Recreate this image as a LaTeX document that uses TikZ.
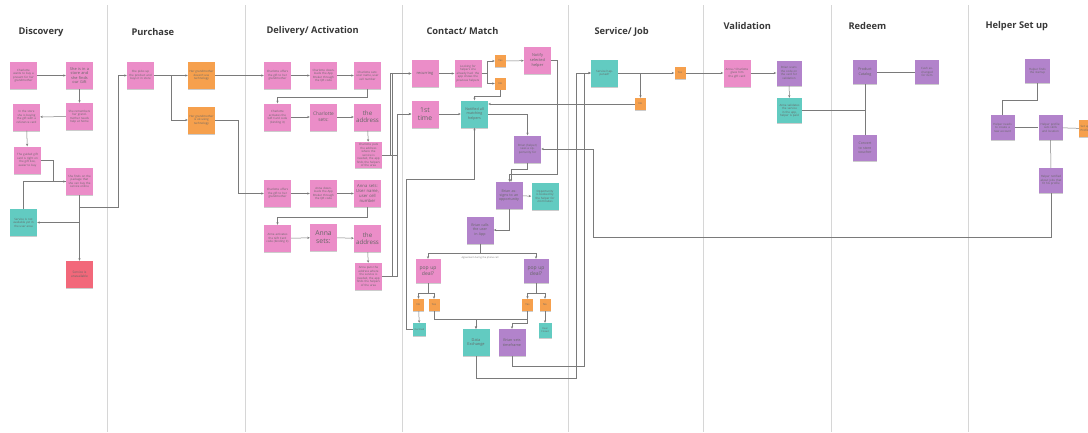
\documentclass[tikz,border=0pt]{standalone}
\usepackage{fontspec}
\setmainfont{Open Sans}
\usetikzlibrary{arrows.meta,shadows}

\definecolor{notepink}{HTML}{EB8DC8}
\definecolor{noteorange}{HTML}{F6A04D}
\definecolor{noteteal}{HTML}{62CBC1}
\definecolor{notepurple}{HTML}{B283CB}
\definecolor{notered}{HTML}{F2687A}
\definecolor{linegray}{HTML}{7A7A7A}

\tikzset{
    note/.style={minimum width=27pt, minimum height=27pt, text width=24pt, inner sep=1.5pt,
        align=center, font=\fontsize{2.9}{3.5}\selectfont, text=black!60,
        drop shadow={shadow xshift=0.4pt, shadow yshift=-1.2pt, opacity=0.2, fill=black}},
    pinknote/.style={note, fill=notepink},
    tealnote/.style={note, fill=noteteal},
    purplenote/.style={note, fill=notepurple},
    rednote/.style={note, fill=notered},
    orangenote/.style={note, fill=noteorange},
    tag/.style={fill=noteorange, minimum width=11pt, minimum height=12pt, inner sep=0pt,
        font=\fontsize{2.6}{3}\selectfont, text=black!60,
        drop shadow={shadow xshift=0.3pt, shadow yshift=-0.8pt, opacity=0.2, fill=black}},
    small/.style={minimum width=13pt, minimum height=13pt, text width=11pt, inner sep=1pt},
    link/.style={draw=linegray, line width=0.5pt, -{Stealth[length=2.6pt,width=2.2pt]}},
    plain/.style={draw=linegray, line width=0.5pt},
    lane/.style={draw=black!16, line width=0.7pt},
    lanetitle/.style={anchor=west, font=\fontsize{9.3}{11}\selectfont\bfseries, text=black!78}
}

\begin{document}
\begin{tikzpicture}[x=1pt,y=-1pt]
\useasboundingbox (0,0) rectangle (1088,432);

% Loop to draw the lane separators
\foreach \x in {107,245,402,568,703,831,968} {
    \draw[lane] (\x,5) -- (\x,432);
}

% Lane titles
\node[lanetitle] (tdisc) at (15,32) {Discovery};
\node[lanetitle] (tbuy) at (128,32) {Purchase};
\node[lanetitle] (tdel) at (263,31) {Delivery/ Activation};
\node[lanetitle] (tmatch) at (423,31) {Contact/ Match};
\node[lanetitle] (tjob) at (591,32) {Service/ Job};
\node[lanetitle] (tval) at (720,26) {Validation};
\node[lanetitle] (tred) at (845,26) {Redeem};
\node[lanetitle] (thelp) at (982,26) {Helper Set up};

% Discovery
\node[pinknote] (disc1) at (23.5,75.5) {Charlotte wants to buy a present for her grandmother};
\node[pinknote, font=\fontsize{3.9}{4.5}\selectfont] (disc2) at (79.5,75.5) {She is in a store and she finds our Gift};
\node[pinknote] (disc4) at (79.5,116.5) {She remembers her grandmother needs help at home};
\node[pinknote] (disc3) at (26.5,117) {In the store she is buying the gift with a reference card};
\node[pinknote] (disc5) at (27.5,160) {The guided gift card is right on the gift box, easier to buy};
\node[pinknote] (disc6) at (79.5,181.5) {She finds on the package that she can buy the service online};
\node[tealnote] (disc7) at (23.5,222.5) {Service is not available yet in the user area};
\node[rednote, font=\fontsize{3.2}{3.8}\selectfont] (disc8) at (79.5,274.5) {Service is unavailable};

% Purchase
\node[pinknote] (buy1) at (140.5,75.5) {She picks up the product and buys it in store};
\node[orangenote] (buy2) at (201.5,75.5) {Her grandmother doesn't use technology};
\node[orangenote] (buy3) at (201.5,120) {Her grandmother is ok using technology};

% Delivery/ Activation
\node[pinknote] (del1) at (277.5,75.5) {Charlotte offers the gift to her grandmother};
\node[pinknote] (del2) at (323.5,75.5) {Charlotte downloads the App Broker through the QR code};
\node[pinknote] (del3) at (367.5,75.5) {Charlotte sets: user name, user cell number};
\node[pinknote] (del4) at (277.5,117) {Charlotte activates the Gift Card code (binding it)};
\node[pinknote, font=\fontsize{4.8}{5.6}\selectfont] (del5) at (323.5,117) {Charlotte sets:};
\node[pinknote, font=\fontsize{6.2}{7.2}\selectfont] (del6) at (367.5,117) {the address};
\node[pinknote, minimum height=26pt] (del6b) at (368.5,155) {Charlotte puts the address where the service is needed, the app finds the helpers of the area};
\node[pinknote] (del7) at (277.5,193.5) {Charlotte offers the gift to her grandmother};
\node[pinknote] (del8) at (323.5,193.5) {Anna downloads the App Broker through the QR code};
\node[pinknote, font=\fontsize{4.2}{5}\selectfont] (del9) at (367.5,193.5) {Anna sets: User name, user cell number};
\node[pinknote] (del10) at (277.5,238.5) {Anna activates the Gift Card code (binding it)};
\node[pinknote, font=\fontsize{6.8}{7.8}\selectfont] (del11) at (323.5,237.5) {Anna sets:};
\node[pinknote, font=\fontsize{6.2}{7.2}\selectfont] (del12) at (367.5,238.5) {the address};
\node[pinknote] (del12b) at (368.5,276.5) {Anna puts the address where the service is needed, the app finds the helpers of the area};

% Contact/ Match
\node[pinknote, font=\fontsize{3.9}{4.5}\selectfont] (match1) at (425,73.5) {recurring};
\node[pinknote] (match2) at (468,73.5) {Looking for helpers she already had: the app shows the previous helpers};
\node[tag] (yes1) at (500.5,61) {Yes};
\node[tag] (no1) at (500.5,83.5) {No};
\node[pinknote, font=\fontsize{3.9}{4.7}\selectfont] (match4) at (537.5,60.5) {Notify selected helper};
\node[pinknote, font=\fontsize{6.8}{8}\selectfont] (match3) at (425,114) {1st time};
\node[tealnote, font=\fontsize{3.6}{4.3}\selectfont] (match5) at (474.5,114) {Notified all matching helpers};
\node[purplenote] (match6) at (527.5,149) {Brian (helper) sees a opportunity for};
\node[purplenote, font=\fontsize{3.6}{4.3}\selectfont] (match7) at (509,195.5) {Brian assigns to an opportunity};
\node[tealnote] (match8) at (545,196.5) {Opportunity is booked by the helper for 24 minutes};
\node[purplenote, font=\fontsize{3.6}{4.3}\selectfont] (match9) at (480,230) {Brian calls the user in App};
\node[text=black!55, font=\fontsize{2.4}{3}\selectfont, inner sep=0pt] (agree) at (480,257.5) {Agreement during the phone call};
\node[pinknote, minimum width=24pt, minimum height=24pt, text width=22pt, font=\fontsize{5}{6}\selectfont] (match10) at (428,271) {pop up deal?};
\node[purplenote, minimum width=24pt, minimum height=24pt, text width=22pt, font=\fontsize{5}{6}\selectfont] (match11) at (536,271) {pop up deal?};
\node[tag] (no2) at (418.5,305) {No};
\node[tag] (yes2) at (434,305) {Yes};
\node[tag] (yes3) at (527.5,305) {Yes};
\node[tag] (no3) at (545,305) {No};
\node[tealnote, small, font=\fontsize{2.4}{3}\selectfont] (match12) at (419.5,329.5) {Declined};
\node[tealnote, small, minimum height=15pt, font=\fontsize{2.4}{3}\selectfont] (match13) at (545,330.5) {Deal Closed};
\node[tealnote, font=\fontsize{3.9}{4.7}\selectfont] (match14) at (476,342.5) {Data Exchange};
\node[purplenote, font=\fontsize{3.7}{4.5}\selectfont] (match15) at (512,342.5) {Brian sets timeframe};

% Service/ Job
\node[tealnote] (job1) at (604.5,73) {Service happened?};
\node[tag] (jobyes) at (680,73) {Yes};
\node[tag] (jobno) at (640.5,104) {No};

% Validation
\node[pinknote] (val1) at (737,73) {Anna / Charlotte gives him the gift card};
\node[purplenote, minimum width=25pt, minimum height=25pt, text width=22pt] (val2) at (789,73) {Brian scans the code on the card for validation};
\node[tealnote, minimum width=25pt, minimum height=25pt, text width=22pt] (val3) at (789.5,110.5) {Anna validates the service in the app, helper is paid};

% Redeem
\node[purplenote, minimum width=24pt, minimum height=24pt, text width=21pt, font=\fontsize{3.7}{4.5}\selectfont] (red1) at (865,72) {Product Catalog};
\node[purplenote, minimum width=24pt, minimum height=24pt, text width=21pt] (red2) at (927,72) {Cash exchanged for item};
\node[purplenote, minimum width=24pt, minimum height=26pt, text width=21pt, font=\fontsize{3.5}{4.3}\selectfont] (red3) at (865,148) {Convert to store voucher};

% Helper Set up
\node[purplenote, minimum width=25pt, minimum height=24pt, text width=22pt] (help1) at (1037.5,71) {Helper finds the startup};
\node[purplenote, minimum width=24pt, minimum height=25pt, text width=21pt] (help2) at (1002.5,127.5) {Helper needs to create a new account};
\node[purplenote, minimum width=24pt, minimum height=25pt, text width=21pt] (help3) at (1050.5,127.5) {Helper profile: sets skills and location};
\node[orangenote, minimum width=12pt, minimum height=17pt, text width=10pt, inner sep=1pt] (help5) at (1085,128.5) {Set up Profile};
\node[purplenote, minimum width=24pt, minimum height=25pt, text width=21pt] (help4) at (1051,180.5) {Helper notified about jobs that fit his profile};

% Connectors: Discovery
\draw[link] (disc1) -- (disc2);
\draw[link] (disc2) -- (disc4);
\draw[link] (disc4) -- (disc3);
\draw[link] (disc3) -- (disc5);
\draw[link] (disc5.east) -- ++(12,0) |- (disc6.west);
\draw[plain] (disc7.north) |- (disc6.west);
\draw[link] (disc6.south) |- (disc7.east);
\draw[link] (disc6.south) -- (disc8.north);
\draw[link] (disc6.south) -- ++(0,12) -- ++(38.5,0) |- (buy1.west);

% Connectors: Purchase
\draw[link] (buy1) -- (buy2);
\draw[link] (buy1.east) -- ++(17,0) |- (buy3.west);
\draw[link] (buy2) -- (del1);
\draw[link] (buy3.east) -- ++(23,0) |- (del7.west);

% Connectors: Delivery/ Activation
\draw[link] (del1) -- (del2);
\draw[link] (del2) -- (del3);
\draw[link] (del3.south) -- ++(0,8) -| (del4.north);
\draw[link] (del4) -- (del5);
\draw[link] (del5) -- (del6);
\draw[link] (del6) -- (del6b);
\draw[link] (del7) -- (del8);
\draw[link] (del8) -- (del9);
\draw[link] (del9.south) -- ++(0,10) -| (del10.north);
\draw[link] (del10) -- (del11);
\draw[link] (del11) -- (del12);
\draw[link] (del12) -- (del12b);
\draw[link] (del6b.east) -- ++(8,0) |- (match1.west);
\draw[link] (del6b.east) -- ++(15,0) |- (match3.west);
\draw[link] (del12b.east) -- ++(10,0) |- (match1.west);
\draw[link] (del12b.east) -- ++(15,0) |- (match3.west);

% Connectors: Contact/ Match
\draw[link] (match1) -- (match2);
\draw[link] (match2.east) -- ++(6,0) |- (yes1.west);
\draw[link] (match2.east) -- ++(6,0) |- (no1.west);
\draw[link] (yes1) -- (match4);
\draw[link] (no1.south) -- ++(0,7) -| (match5.north);
\draw[link] (match3) -- (match5);
\draw[link] (match5.east) -| (match6.north);
\draw[link] (match6.south) -- ++(0,7) -| ([xshift=2pt]match7.north);
\draw[link] (match4.east) -- ++(6,0) -- ++(0,114) -| ([xshift=0.5pt]match7.north);
\draw[link] (match7) -- (match8);
\draw[link] (match7.south) |- (match9.east);
\draw[link] (match9.south) -- ++(0,10) -| (match10.north);
\draw[link] (match9.south) -- ++(0,10) -| (match11.north);
\draw[link] (match10.south) -- ++(0,10) -| (no2.north);
\draw[link] (match10.south) -- ++(0,10) -| (yes2.north);
\draw[link] (match11.south) -- ++(0,10) -| (yes3.north);
\draw[link] (match11.south) -- ++(0,10) -| (no3.north);
\draw[link] (no2) -- (match12);
\draw[link] (no3) -- (match13);
\draw[link] (yes2.south) -- ++(0,8) -| (match14.north);
\draw[link] (yes3.south) -- ++(0,8) -| (match14.north);
\draw[link] (yes3.south) -- ++(0,12) -| (match15.north);
\draw[link] (match12.west) -- ++(-7,0) -- ++(0,-150) -| (match5.south);
\draw[link] (match14.south) |- (576,378) |- (job1.west);
\draw[link] (match15.south) |- (584,366) |- (job1.west);
\draw[link] (help4.south) |- (593,237) |- (match6.east);

% Connectors: Service/ Job
\draw[link] (job1) -- (jobyes);
\draw[link] (job1.east) -| (jobno.north);
\draw[link] (jobno.west) -- (jobno.west -| match5.east);

% Connectors: Validation and Redeem
\draw[link] (jobyes) -- (val1);
\draw[link] (val1) -- (val2);
\draw[link] (val2) -- (val3);
\draw[plain] (val3.east) -- (val3.east -| red1.south);
\draw[plain] (red1) -- (red2);
\draw[plain] (red1) -- (red3);

% Connectors: Helper Set up
\draw[plain] (help1.south) -- ++(0,17) -| (help2.north);
\draw[plain] (help2) -- (help3);
\draw[plain] (help3) -- (help5);
\draw[plain] (help3) -- (help4);

\end{tikzpicture}
\end{document}
